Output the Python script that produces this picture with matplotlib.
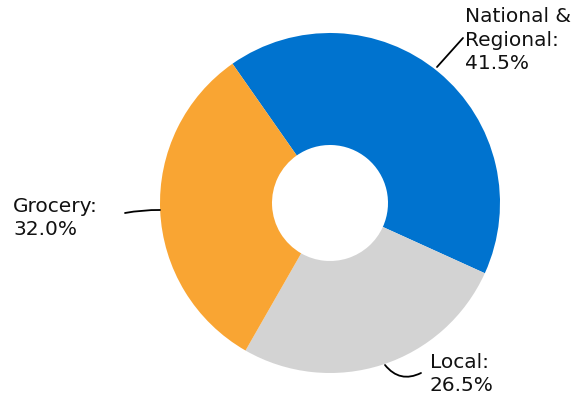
import matplotlib
matplotlib.use("Agg")
import matplotlib.pyplot as plt

labels = ["National &\nRegional:", "Local:", "Grocery:"]
shares = [41.5, 26.5, 32.0]
colors = ["#0073CF", "#D3D3D3", "#F9A533"]

W, H = 585, 400
cx, cy, R = 330, 203, 170


def to_data(px, py):
    # pixel coords (top-left origin) -> data coords of the pie
    return (px - cx) / R, (cy - py) / R


fig = plt.figure(figsize=(W / 100, H / 100), dpi=100)
ax = fig.add_axes([0, 0, 1, 1])
ax.pie(shares, colors=colors, startangle=125, counterclock=False,
       radius=1, wedgeprops=dict(width=1 - 58 / R, linewidth=0))
ax.set_xlim(-cx / R, (W - cx) / R)
ax.set_ylim(-(H - cy) / R, cy / R)
ax.axis("off")

# label text with values
texts = [f"{lab}\n{v:.1f}%" for lab, v in zip(labels, shares)]
text_pos = [(465, 7, "top"), (430, 374, "center"), (13, 218, "center")]
for t, (px, py, va) in zip(texts, text_pos):
    x, y = to_data(px, py)
    ax.text(x, y, t, ha="left", va=va, fontsize=14.5, family="DejaVu Sans",
            color="#111111", linespacing=1.3)

# connector lines
lines = [((437, 67), (463, 38), 0.0),
         ((385, 365), (421, 373), 0.4),
         ((160, 210), (125, 213), 0.05)]
for (a, b, rad) in lines:
    ax.annotate("", xy=to_data(*b), xytext=to_data(*a),
                arrowprops=dict(arrowstyle="-", color="black", lw=1.3,
                                shrinkA=0, shrinkB=0,
                                connectionstyle=f"arc3,rad={rad}"))

fig.savefig("out.png", dpi=100)
